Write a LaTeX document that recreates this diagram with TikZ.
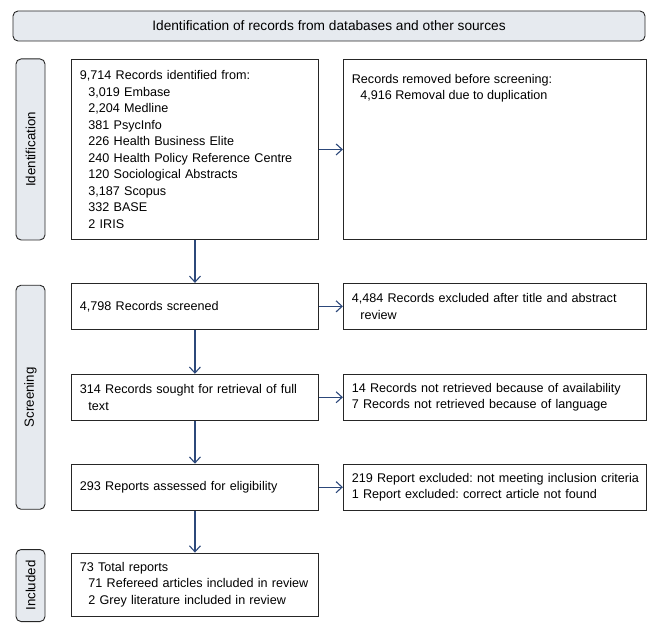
\documentclass[tikz,border=0pt]{standalone}
\usepackage{fontspec}
\setmainfont{Liberation Sans}
\usetikzlibrary{arrows.meta,positioning,calc}
\definecolor{phasefill}{RGB}{230,234,239}
\definecolor{flowblue}{RGB}{44,72,122}
\newcommand{\ind}{\hspace*{8.5pt}}
\frenchspacing
\hfuzz=10pt

\begin{document}
\begin{tikzpicture}[
  x=1pt, y=1pt,
  node distance=43pt and 24pt,
  box/.style={draw=black!85, line width=0.9pt, align=left, inner xsep=8.5pt, inner ysep=4pt, font=\fontsize{12.6}{16.5}\selectfont},
  leftbox/.style={box, text width=230pt, minimum height=46pt},
  rightbox/.style={box, text width=286pt, minimum height=46pt},
  phase/.style={draw=black!85, line width=0.9pt, fill=phasefill, rounded corners=5pt, minimum height=29pt, rotate=90, font=\fontsize{13.3}{15}\selectfont},
  titlebox/.style={draw=black!85, line width=0.9pt, fill=phasefill, rounded corners=5pt, minimum width=632pt, minimum height=30pt, font=\fontsize{13.7}{15}\selectfont},
  flow/.style={draw=flowblue, line width=1.1pt, -{Straight Barb[length=6pt,width=11pt]}}
]
\useasboundingbox (0,0) rectangle (662,-634);

\node[titlebox] (title) at (329,-26) {Identification of records from databases and other sources};

% left column
\node[leftbox, minimum height=180pt, anchor=north west] (records) at (71,-59) {9,714 Records identified from:\\ \ind 3,019 Embase\\ \ind 2,204 Medline\\ \ind 381 PsycInfo\\ \ind 226 Health Business Elite\\ \ind 240 Health Policy Reference Centre\\ \ind 120 Sociological Abstracts\\ \ind 3,187 Scopus\\ \ind 332 BASE\\ \ind 2 IRIS};
\node[leftbox, below=of records] (screened) {4,798 Records screened};
\node[leftbox, below=44pt of screened] (sought) {314 Records sought for retrieval of full\\ \ind text};
\node[leftbox, below=of sought] (assessed) {293 Reports assessed for eligibility};
\node[leftbox, below=42pt of assessed, minimum height=63pt] (included) {73 Total reports\\ \ind\mbox{71 Refereed articles included in review}\\ \ind 2 Grey literature included in review};

% right column
\node[box, right=of records, minimum width=303pt, minimum height=180pt] (removed) {\parbox[c][163pt][t]{286pt}{\raggedright\vspace*{6pt}Records removed before screening:\\ \ind 4,916 Removal due to duplication}};
\node[rightbox, right=of screened] (excluded) {\mbox{4,484 Records excluded after title and abstract}\\ \ind review};
\node[rightbox, right=of sought] (notretrieved) {\mbox{14 Records not retrieved because of availability}\\ 7 Records not retrieved because of language};
\node[rightbox, right=of assessed] (reportsexcl) {\mbox{219 Report excluded: not meeting inclusion criteria}\\ 1 Report excluded: correct article not found};

% phases
\node[phase, minimum width=181pt] (idphase) at ($(records.west)+(-40.5,0)$) {Identification};
\node[phase, minimum width=224pt] (scrphase) at ($(sought.west)+(-40.5,0)$) {Screening};
\node[phase, minimum width=72pt] (incphase) at ($(included.west)+(-40.5,-1)$) {Included};

\draw[flow] (records) -- (removed);
\draw[flow] (records) -- (screened);
\draw[flow] (screened) -- (excluded);
\draw[flow] (screened) -- (sought);
\draw[flow] (sought) -- (notretrieved);
\draw[flow] (sought) -- (assessed);
\draw[flow] (assessed) -- (reportsexcl);
\draw[flow] (assessed) -- (included);
\end{tikzpicture}
\end{document}
